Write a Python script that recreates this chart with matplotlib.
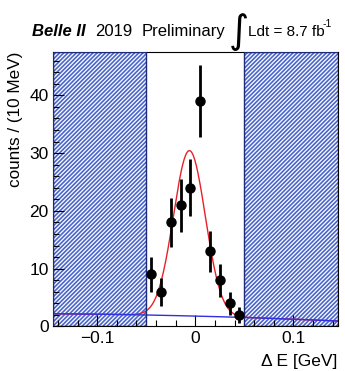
import numpy as np
import matplotlib
matplotlib.use("Agg")
import matplotlib.pyplot as plt
from matplotlib.patches import Rectangle

plt.rcParams['font.family'] = ['Liberation Sans', 'DejaVu Sans']
plt.rcParams['hatch.linewidth'] = 1.2

# binned data, 10 MeV bins in the signal window
de_centers = [-0.045, -0.035, -0.025, -0.015, -0.005, 0.005, 0.015, 0.025, 0.035, 0.045]
counts = [9, 6, 18, 21, 24, 39, 13, 8, 4, 2]
count_errs = [3.0, 2.45, 4.24, 4.58, 4.9, 6.24, 3.6, 2.83, 2.0, 1.41]

# fit result: gaussian signal on a quadratic background
sig_amp, sig_mean, sig_width = 28.6, -0.006, 0.0162
bkg_coef = [1.8, -4.31, -10.7]

x_range = (-0.145, 0.145)
y_max = 47.5
sideband_edge = 0.05

fig = plt.figure(figsize=(3.45, 3.71), dpi=100)
ax = fig.add_axes([0.1536, 0.12, 0.825, 0.74])

# hatched sidebands
for x0, x1 in [(x_range[0], -sideband_edge), (sideband_edge, x_range[1])]:
    ax.add_patch(Rectangle((x0, 0), x1 - x0, y_max, facecolor='white', edgecolor='#4a66cc',
                           hatch='////////', linewidth=0, zorder=1))
    ax.add_patch(Rectangle((x0, 0), x1 - x0, y_max, fill=False, edgecolor='#1c2a7a',
                           linewidth=1.0, zorder=4))

xs = np.linspace(x_range[0], x_range[1], 400)
bkg = bkg_coef[0] + bkg_coef[1] * xs + bkg_coef[2] * xs ** 2
total = bkg + sig_amp * np.exp(-0.5 * ((xs - sig_mean) / sig_width) ** 2)
ax.plot(xs, total, color='#e8202a', lw=1.0, zorder=2)
ax.plot(xs, bkg, color='#3030e0', lw=1.0, zorder=3)

ax.errorbar(de_centers, counts, yerr=count_errs, fmt='o', color='black', ms=6.5,
            elinewidth=2.0, capsize=0, zorder=5)

ax.set_xlim(*x_range)
ax.set_ylim(0, y_max)
ax.set_xticks([-0.1, 0, 0.1])
ax.set_xticklabels(['\u22120.1', '0', '0.1'])
ax.set_xticks(np.arange(-0.14, 0.141, 0.02), minor=True)
ax.set_yticks([0, 10, 20, 30, 40])
ax.set_yticks(np.arange(0, 47, 2), minor=True)
ax.tick_params(which='both', direction='in', top=False, right=False, labelsize=12.5, pad=3)
ax.tick_params(which='major', length=8, width=0.8)
ax.tick_params(which='minor', length=4, width=0.8)
for s in ax.spines.values():
    s.set_linewidth(0.8)

ax.set_ylabel('counts / (10 MeV)', fontsize=12.3, loc='top', labelpad=5)
ax.set_xlabel('\u0394 E [GeV]', fontsize=12.5, loc='right', labelpad=6)

ty = 1 - 36 / 371
fig.text(31.7 / 345, ty, 'Belle II', fontsize=12, fontweight='bold', style='italic', va='baseline')
fig.text(95 / 345, ty, '2019', fontsize=12, va='baseline')
fig.text(141.7 / 345, ty, 'Preliminary', fontsize=12, va='baseline')
fig.text(229 / 345, 1 - 43 / 371, '\u222b', fontsize=28, va='baseline', family='DejaVu Sans')
fig.text(248 / 345, ty, 'Ldt = 8.7 fb', fontsize=11, va='baseline')
fig.text(323 / 345, 1 - 27 / 371, '-1', fontsize=7.5, va='baseline')

fig.savefig('out.png', dpi=100)
